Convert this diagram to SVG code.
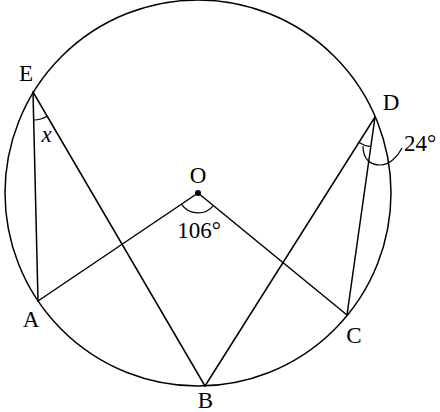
<svg xmlns="http://www.w3.org/2000/svg" width="440" height="412" viewBox="0 0 440 412">
<style>
.ln{fill:none;stroke:#000;stroke-width:1.5;stroke-linecap:round}
.arc{fill:none;stroke:#000;stroke-width:1.2}
text{font-family:"Liberation Serif","DejaVu Serif",serif;font-size:23px;fill:#000;text-anchor:middle}
.it{font-style:italic}
</style>
<rect width="440" height="412" fill="#fff"/>
<g id="circle"><circle cx="198" cy="193" r="193" class="ln"/></g>
<g id="connectors">
<line x1="33" y1="92" x2="38" y2="301" class="ln"/>
<line x1="33" y1="92" x2="205" y2="386" class="ln"/>
<line x1="198" y1="193" x2="38" y2="301" class="ln"/>
<line x1="198" y1="193" x2="347" y2="315" class="ln"/>
<line x1="375" y1="117" x2="205" y2="386" class="ln"/>
<line x1="375" y1="117" x2="347" y2="315" class="ln"/>
<path d="M33.7,120 A28,28 0 0 0 47.1,116.2" class="arc"/>
<path d="M181.4,204.2 A20,20 0 0 0 213.4,205.6" class="arc"/>
<path d="M359,142.4 A30,30 0 0 0 370.8,146.7" class="arc"/>
<path d="M363,146 C363,160 371,165 380,165 C390,165 398,156 402,148" class="arc"/>
</g>
<g id="O"><circle cx="198" cy="193" r="3" fill="#000"/><text x="198" y="183">O</text></g>
<g id="E"><text x="26" y="81">E</text></g>
<g id="D"><text x="391" y="110">D</text></g>
<g id="A"><text x="31" y="327">A</text></g>
<g id="B"><text x="205.5" y="408">B</text></g>
<g id="C"><text x="354" y="343">C</text></g>
<g id="label-x"><text x="46.5" y="142" class="it">x</text></g>
<g id="label-106"><text x="199" y="238">106°</text></g>
<g id="label-24"><text x="420" y="151">24°</text></g>
</svg>
